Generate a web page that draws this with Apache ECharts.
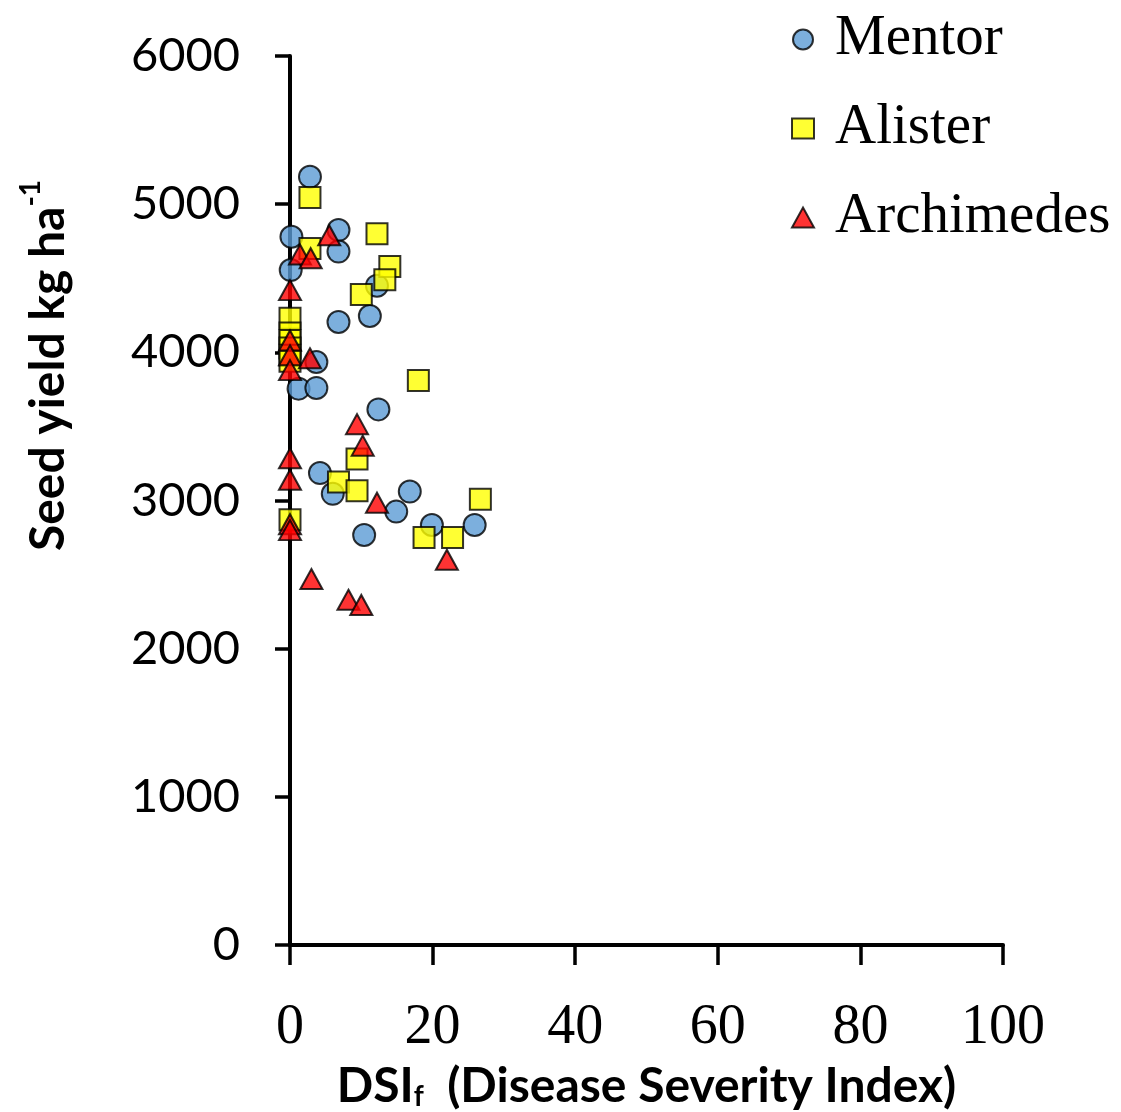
<!DOCTYPE html>
<html>
<head>
<meta charset="utf-8">
<script src="https://cdn.jsdelivr.net/npm/echarts@6/dist/echarts.min.js"></script>
<style>
html,body{margin:0;padding:0;background:#fff;}
#chart{width:1121px;height:1112px;}
</style>
</head>
<body>
<div id="chart"></div>
<script>
const seriesNames = ['Mentor', 'Alister', 'Archimedes'];
const xTicks = [0, 20, 40, 60, 80, 100];
const yTicks = [0, 1000, 2000, 3000, 4000, 5000, 6000];

const mentorX = [2.8, 6.8, 0.2, 6.8, 0.1, 12.2, 11.2, 6.8, 3.7, 1.2, 3.7, 12.4, 4.2, 6.0, 16.8, 14.9, 19.9, 25.9, 10.4];
const mentorY = [5185, 4825, 4780, 4680, 4555, 4450, 4245, 4205, 3935, 3755, 3760, 3615, 3185, 3045, 3060, 2925, 2835, 2835, 2767];

const alisterX = [2.8, 12.2, 2.8, 14.0, 13.3, 10.0, 0, 0, 0, 0, 0, 0, 18.0, 9.4, 6.8, 9.4, 26.7, 0, 18.8, 22.8];
const alisterY = [5045, 4800, 4700, 4580, 4490, 4390, 4230, 4130, 4080, 4030, 3980, 3940, 3810, 3280, 3125, 3065, 3008, 2870, 2750, 2750];

const archX = [5.5, 1.4, 2.9, 0, 0, 0, 0, 2.8, 9.4, 10.2, 0, 0, 12.2, 0, 0, 22.0, 3.0, 8.2, 10.0];
const archY = [4790, 4660, 4635, 4420, 4080, 3980, 3880, 3960, 3515, 3370, 3285, 3140, 2985, 2840, 2800, 2600, 2470, 2330, 2295];

const pairs = (xs, ys) => xs.map((x, i) => [x, ys[i]]);

const chart = echarts.init(document.getElementById('chart'), null, {renderer: 'canvas'});
const border = {borderColor: '#000', borderWidth: 2};

chart.setOption({
  animation: false,
  backgroundColor: '#fff',
  grid: {left: 290, right: 118, top: 56, bottom: 167, containLabel: false, outerBoundsMode: 'none'},
  legend: {
    orient: 'vertical',
    left: 786,
    top: 6,
    itemWidth: 22,
    itemHeight: 20,
    itemGap: 32,
    data: seriesNames,
    textStyle: {fontFamily: 'Liberation Serif', fontSize: 57, color: '#000', padding: [0, 0, 0, 16]}
  },
  xAxis: {
    type: 'value',
    min: xTicks[0], max: xTicks[xTicks.length - 1], interval: 20,
    splitLine: {show: false},
    axisLine: {show: true, onZero: false, lineStyle: {color: '#000', width: 4}},
    axisTick: {show: true, inside: false, length: 20, lineStyle: {color: '#000', width: 3.5}},
    axisLabel: {margin: 55, fontFamily: 'Liberation Serif', fontSize: 56, color: '#000'},
    name: '{b|DSI}{s|f}{b|  (Disease Severity Index)}',
    nameLocation: 'middle',
    nameGap: 110,
    nameMoveOverlap: false,
    nameTextStyle: {
      rich: {
        b: {fontFamily: 'Lato', fontWeight: 'bold', fontSize: 48, lineHeight: 56, verticalAlign: 'bottom', color: '#000'},
        s: {fontFamily: 'Lato', fontWeight: 'bold', fontSize: 28, lineHeight: 28, padding: [30, 0, 0, 0], verticalAlign: 'bottom', color: '#000'}
      }
    }
  },
  yAxis: {
    type: 'value',
    min: yTicks[0], max: yTicks[yTicks.length - 1], interval: 1000,
    splitLine: {show: false},
    axisLine: {show: true, onZero: false, lineStyle: {color: '#000', width: 4}},
    axisTick: {show: true, inside: false, length: 15, lineStyle: {color: '#000', width: 3.5}},
    axisLabel: {margin: 50, fontFamily: 'Lato', fontSize: 47, color: '#000', formatter: v => String(v)},
    name: '{b|Seed yield kg ha}{p|-1}',
    nameLocation: 'middle',
    nameGap: 217,
    nameRotate: 90,
    nameTextStyle: {
      padding: [0, 0, 0, 270],
      rich: {
        b: {fontFamily: 'Lato', fontWeight: 'bold', fontSize: 48, lineHeight: 56, verticalAlign: 'bottom', color: '#000'},
        p: {fontFamily: 'Lato', fontWeight: 'bold', fontSize: 28, lineHeight: 28, padding: [0, 0, 28, 0], verticalAlign: 'top', color: '#000'}
      }
    }
  },
  series: [
    {name: seriesNames[0], type: 'scatter', symbol: 'circle', symbolSize: 22, clip: false,
     itemStyle: Object.assign({color: '#5B9BD5'}, border), data: pairs(mentorX, mentorY)},
    {name: seriesNames[1], type: 'scatter', symbol: 'rect', symbolSize: 21, clip: false,
     itemStyle: Object.assign({color: '#FFFF00'}, border), data: pairs(alisterX, alisterY)},
    {name: seriesNames[2], type: 'scatter', symbol: 'triangle', symbolSize: [22, 20], clip: false,
     itemStyle: Object.assign({color: '#FF0000'}, border), data: pairs(archX, archY)}
  ]
});
</script>
</body>
</html>
